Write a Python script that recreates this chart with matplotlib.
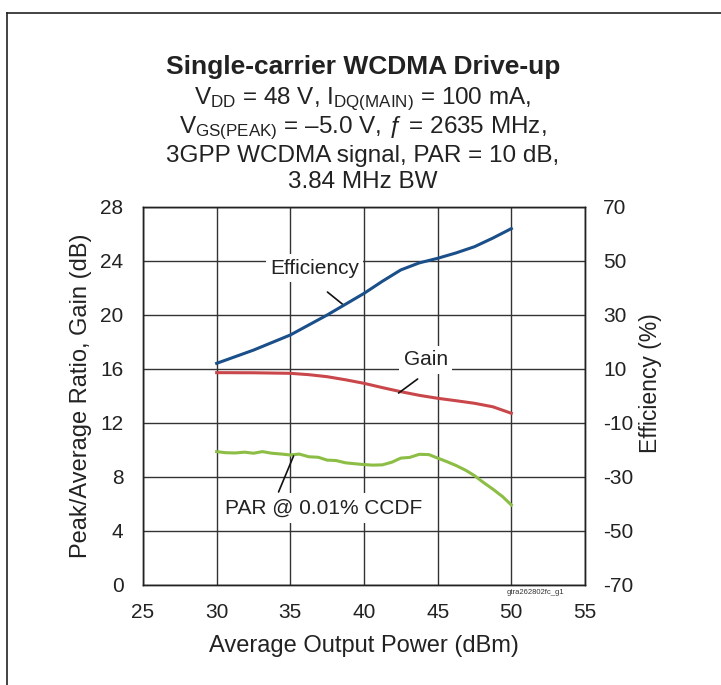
import matplotlib
matplotlib.use("Agg")
import matplotlib.pyplot as plt
from matplotlib.lines import Line2D

plt.rcParams['font.family'] = ['Liberation Sans', 'DejaVu Sans']
plt.rcParams['mathtext.fontset'] = 'custom'
plt.rcParams['mathtext.rm'] = 'Liberation Sans'
plt.rcParams['mathtext.it'] = 'Liberation Sans:italic'

# ---- data ----
eff_x = [30, 32.5, 35, 37.5, 40, 41.25, 42.5, 43.75, 45, 46.25, 47.5, 48.75, 50]
eff_y = [12.1, 17.0, 22.6, 30.0, 38.0, 42.5, 46.7, 49.3, 51.0, 53.0, 55.3, 58.5, 62.0]

gain_x = [30, 32.5, 35, 36.25, 37.5, 38.75, 40, 41.25, 42.5, 43.75, 45, 46.25, 47.5, 48.75, 50]
gain_y = [15.73, 15.72, 15.68, 15.58, 15.43, 15.2, 14.94, 14.62, 14.32, 14.05, 13.83, 13.65, 13.46, 13.2, 12.72]

par_x = [30, 30.6, 31.25, 31.9, 32.5, 33.1, 33.75, 34.4, 35, 35.6, 36.25, 36.9, 37.5, 38.1,
         38.75, 39.4, 40, 40.6, 41.25, 41.9, 42.5, 43.1, 43.75, 44.4, 45, 45.6, 46.25,
         46.9, 47.5, 48.1, 48.75, 49.4, 50]
par_y = [9.88, 9.80, 9.78, 9.84, 9.76, 9.88, 9.76, 9.70, 9.63, 9.70, 9.50, 9.46, 9.25, 9.22,
         9.05, 8.98, 8.92, 8.88, 8.90, 9.10, 9.40, 9.45, 9.68, 9.66, 9.40, 9.15, 8.85,
         8.50, 8.10, 7.60, 7.10, 6.55, 5.93]

x_ticks = [25, 30, 35, 40, 45, 50, 55]
left_ticks = [0, 4, 8, 12, 16, 20, 24, 28]
right_ticks = [-70, -50, -30, -10, 10, 30, 50, 70]

fig = plt.figure(figsize=(7.21, 6.85), dpi=100)
W, H = 721, 685
ax = fig.add_axes([143 / W, 1 - 585 / H, (585 - 143) / W, (585 - 207) / H])
ax2 = ax.twinx()

ax.set_xlim(25, 55)
ax.set_ylim(0, 28)
ax2.set_ylim(-70, 70)
ax.set_xticks(x_ticks)
ax.set_yticks(left_ticks)
ax2.set_yticks(right_ticks)
ax2.set_yticklabels([str(v) for v in right_ticks])
ax.grid(True, color='#333333', linewidth=1.0)
ax.set_axisbelow(True)
for a in (ax, ax2):
    for s in a.spines.values():
        s.set_color('#222222')
        s.set_linewidth(1.0)
ax.tick_params(axis='x', length=0, labelsize=15, pad=13, colors='#222222')
ax.tick_params(axis='y', length=0, labelsize=15, pad=14, colors='#222222')
ax2.tick_params(axis='y', length=0, labelsize=15, pad=13, colors='#222222')
ax.set_xlabel('Average Output Power (dBm)', fontsize=17, labelpad=9, color='#222222')
ax.set_ylabel('Peak/Average Ratio, Gain (dB)', fontsize=17, color='#222222')
ax.yaxis.set_label_coords((92 - 143) / 442, 0.5)
ax2.set_ylabel('Efficiency (%)', fontsize=16.5, color='#222222')
ax2.yaxis.set_label_coords((639 - 143) / 442, (585 - 383) / 378)

ax.plot(gain_x, gain_y, color='#c9474a', linewidth=2.2, zorder=3)
ax.plot(par_x, par_y, color='#8cbd45', linewidth=2.2, zorder=3)
ax2.plot(eff_x, eff_y, color='#1a4f8a', linewidth=2.2, zorder=3)

# annotations
bbox = dict(facecolor='white', edgecolor='none', pad=3)
line_kw = dict(arrowstyle='-', color='#111111', lw=1.2, shrinkA=0, shrinkB=0)
ax.text(36.64, 23.48, 'Efficiency', fontsize=15, ha='center', va='center',
        color='#222222', bbox=bbox, zorder=4)
ax.annotate('', xy=(38.61, 20.74), xytext=(37.52, 21.7), arrowprops=line_kw)
ax.text(44.18, 16.67, 'Gain', fontsize=15, ha='center', va='center',
        color='#222222', bbox=bbox, zorder=4)
ax.annotate('', xy=(42.35, 14.22), xytext=(43.64, 15.26), arrowprops=line_kw)
ax.text(37.25, 5.70, 'PAR @ 0.01% CCDF', fontsize=15, ha='center', va='center',
        color='#222222', bbox=dict(facecolor='white', edgecolor='none', pad=4), zorder=4)
ax.annotate('', xy=(35.22, 9.56), xytext=(34.2, 6.89), arrowprops=line_kw)

fig.text(535 / W, 1 - 592 / H, 'gtra262802fc_g1', fontsize=5.5, ha='center', va='center',
         color='#333333')

# titles
fig.text(363 / W, 1 - 67 / H, 'Single-carrier WCDMA Drive-up', fontsize=19,
         fontweight='bold', ha='center', va='center', color='#222222')
sub = [r'$\mathregular{V_{DD}}$ = 48 V, $\mathregular{I_{DQ(MAIN)}}$ = 100 mA,',
       r'$\mathregular{V_{GS(PEAK)}}$ = –5.0 V, ƒ = 2635 MHz,',
       '3GPP WCDMA signal, PAR = 10 dB,',
       '3.84 MHz BW']
ys = [99, 128, 156, 182]
for s, yy in zip(sub, ys):
    fig.text(363 / W, 1 - yy / H, s, fontsize=17.5, ha='center', va='center', color='#222222')

# frame
fig.add_artist(Line2D([7 / W, 7 / W], [0, 1 - 13 / H], transform=fig.transFigure,
                      color='#222222', linewidth=1.2))
fig.add_artist(Line2D([7 / W, 1], [1 - 13 / H, 1 - 13 / H], transform=fig.transFigure,
                      color='#222222', linewidth=1.2))

fig.savefig('out.png', dpi=100)
